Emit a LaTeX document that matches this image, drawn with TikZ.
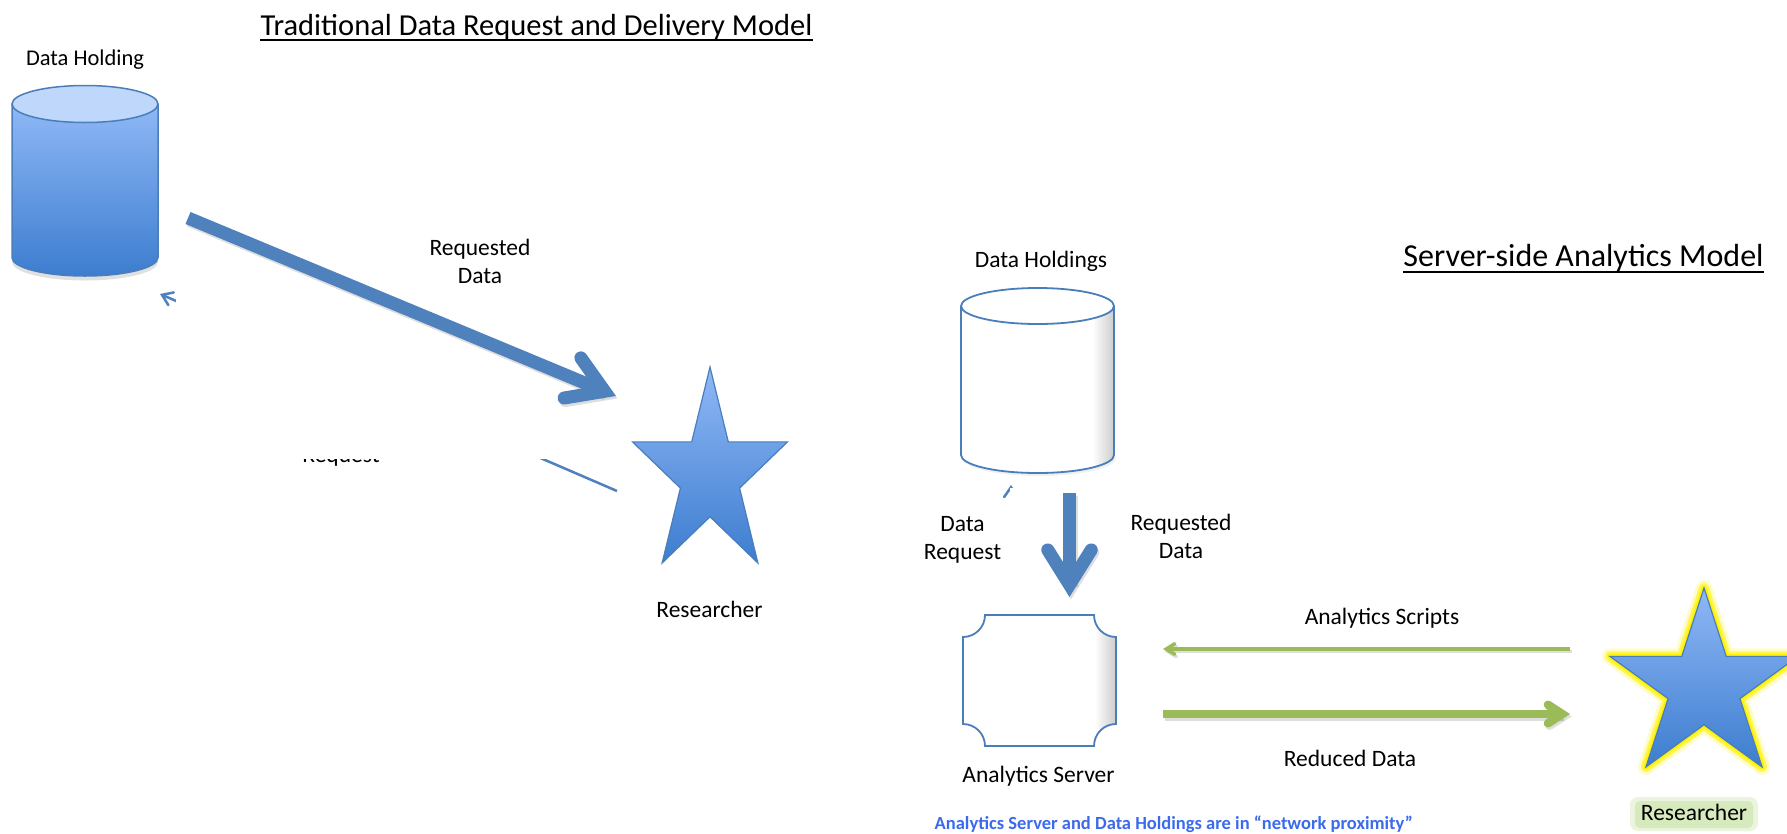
\documentclass[tikz,border=0pt]{standalone}
\usepackage{fontspec}
\setmainfont{Carlito}
\usetikzlibrary{calc}
\definecolor{obl}{RGB}{79,129,189}
\definecolor{olin}{RGB}{74,126,187}
\definecolor{gtop}{RGB}{143,184,246}
\definecolor{gbot}{RGB}{61,125,207}
\definecolor{ctop}{RGB}{190,215,250}
\definecolor{ogr}{RGB}{155,187,89}
\definecolor{txtblue}{RGB}{59,107,236}
\definecolor{glowg}{RGB}{215,234,190}
\pgfdeclarehorizontalshading{rshade}{100bp}{color(0bp)=(white); color(68bp)=(white); color(75bp)=(black!20); color(100bp)=(black!20)}
\newcommand\chevarrow[6]{%
  \coordinate (cv) at ($(#3)!#4!(#2)$);
  \draw[#1, line cap=butt] (#2) -- (cv);
  \draw[#1, line cap=round, line join=miter] ($(cv)!#5!#6:(#2)$) -- (cv) -- ($(cv)!#5!-#6:(#2)$);
}
\begin{document}
\begin{tikzpicture}[x=1pt,y=-1pt,
  lbl/.style={font=\fontsize{23.5}{28}\selectfont, align=center, inner sep=0pt, anchor=base},
  ttl/.style={inner sep=0pt, anchor=base},
  hitbox/.style={inner sep=0pt, draw=none},
  thickb/.style={draw=obl, line width=13pt},
  thinb/.style={draw=obl, line width=2.5pt},
  thickg/.style={draw=ogr, line width=8.5pt},
  thing/.style={draw=ogr, line width=3.5pt},
  shad/.style={draw=black, opacity=.13, transform canvas={shift={(1.5pt,-2.5pt)}}},
  starp/.style n args={4}{insert path={({#1},{#2}) -- ({#1+0.118*#3},{#2+0.382*#4}) -- ({#1+0.5*#3},{#2+0.382*#4}) -- ({#1+0.191*#3},{#2+0.618*#4}) -- ({#1+0.309*#3},{#2+#4}) -- ({#1},{#2+0.764*#4}) -- ({#1-0.309*#3},{#2+#4}) -- ({#1-0.191*#3},{#2+0.618*#4}) -- ({#1-0.5*#3},{#2+0.382*#4}) -- ({#1-0.118*#3},{#2+0.382*#4}) -- cycle}}
]
\useasboundingbox (0,0) rectangle (1787,833);
\fill[white] (0,0) rectangle (1787,833);

% titles
\node[ttl, font=\fontsize{30.5}{36}\selectfont] (t1) at (536.5,35) {Traditional Data Request and Delivery Model};
\draw[line width=2pt] ([yshift=-5pt]t1.base west) -- ([yshift=-5pt]t1.base east);
\node[ttl, font=\fontsize{32}{38}\selectfont] (t2) at (1583.5,266.5) {Server-side Analytics Model};
\draw[line width=2pt] ([yshift=-5pt]t2.base west) -- ([yshift=-5pt]t2.base east);

% ---------- left model ----------
\node[lbl, font=\fontsize{22.5}{27}\selectfont] (dhl) at (85,65) {Data Holding};
\node[hitbox, minimum width=146pt, minimum height=190pt] (dh) at (85,181) {};
\fill[black, opacity=.12] (85,262) ellipse [x radius=73pt, y radius=18.5pt];
\shade[top color=gtop, bottom color=gbot] (12,104) -- (12,257.5) arc[start angle=180,end angle=360,x radius=73pt,y radius=18.5pt] -- (158,104) -- cycle;
\draw[olin, line width=1.5pt] (12,104) -- (12,257.5) arc[start angle=180,end angle=360,x radius=73pt,y radius=18.5pt] -- (158,104);
\filldraw[fill=ctop, draw=olin, line width=1.5pt] (85,104) ellipse [x radius=73pt, y radius=18.5pt];

\node[hitbox, minimum width=155pt, minimum height=196pt] (res1) at (710,465) {};
\coordinate (r1t) at (617,491);
\coordinate (r1h) at (160,294);
\chevarrow{thinb}{r1t}{r1h}{2.2pt}{12pt}{35}
\node[lbl] (dreq1) at (341,462) {Data\\Request};
\fill[white] (176,289) rectangle (616,458.5);

\coordinate (a1t) at (188,218);
\coordinate (a1h) at (616,396);
\chevarrow{thickb,shad}{a1t}{a1h}{12.3pt}{41pt}{32}
\chevarrow{thickb}{a1t}{a1h}{12.3pt}{41pt}{32}
\node[lbl] (rq1) at (480,283) {Requested\\Data};

\shadedraw[top color=gtop, bottom color=gbot, draw=olin, line width=1.2pt, starp={710}{367}{155}{196}];
\node[lbl] (res1l) at (709.5,617) {Researcher};

% ---------- right model ----------
\node[lbl] (dh2l) at (1041,267.7) {Data Holdings};
\node[hitbox, minimum width=153pt, minimum height=185pt] (dh2) at (1037.5,380) {};
\fill[black, opacity=.06] (1039.5,458) ellipse [x radius=76.5pt, y radius=18pt];
\shade[shading=rshade] (961,306) -- (961,455) arc[start angle=180,end angle=360,x radius=76.5pt,y radius=18pt] -- (1114,306) -- cycle;
\draw[olin, line width=1.8pt] (961,306) -- (961,455) arc[start angle=180,end angle=360,x radius=76.5pt,y radius=18pt] -- (1114,306);
\filldraw[fill=white, draw=olin, line width=1.8pt] (1037.5,306) ellipse [x radius=76.5pt, y radius=18pt];

\node[hitbox, minimum width=153pt, minimum height=131pt] (srv) at (1039.5,680.5) {};
\coordinate (r2t) at (1011,612);
\coordinate (r2h) at (1011,485);
\chevarrow{thinb}{r2t}{r2h}{2.2pt}{12pt}{35}
\fill[white] (1010.3,488) rectangle (1060,612);
\node[lbl] (dreq2) at (962.5,559) {Data\\Request};

\coordinate (a2t) at (1069.5,493);
\coordinate (a2h) at (1069.5,597);
\chevarrow{thickb,shad}{a2t}{a2h}{12.3pt}{41pt}{32}
\chevarrow{thickb}{a2t}{a2h}{12.3pt}{41pt}{32}
\node[lbl] (rq2) at (1181,558) {Requested\\Data};

\shadedraw[shading=rshade, draw=olin, line width=1.8pt] (985,615) -- (1094,615) arc[start angle=180,end angle=270,radius=22pt] -- (1116,724) arc[start angle=90,end angle=180,radius=22pt] -- (985,746) arc[start angle=0,end angle=90,radius=22pt] -- (963,637) arc[start angle=270,end angle=360,radius=22pt] -- cycle;
\node[lbl] (srvl) at (1038.5,782) {Analytics Server};

\coordinate (g1t) at (1570,649);
\coordinate (g1h) at (1163,649);
\chevarrow{thing,shad}{g1t}{g1h}{3.3pt}{10pt}{32}
\chevarrow{thing}{g1t}{g1h}{3.3pt}{10pt}{32}
\node[lbl] (scl) at (1382,624) {Analytics Scripts};
\coordinate (g2t) at (1163,714);
\coordinate (g2h) at (1570,714);
\chevarrow{thickg,shad}{g2t}{g2h}{7.8pt}{17pt}{33}
\chevarrow{thickg}{g2t}{g2h}{7.8pt}{17pt}{33}
\node[lbl] (rdl) at (1350,766.7) {Reduced Data};

\node[hitbox, minimum width=188pt, minimum height=179pt] (res2) at (1704,677.5) {};
\draw[yellow!70!white, opacity=.3, line width=16pt, line join=round, starp={1704}{588}{188}{179}];
\draw[yellow, opacity=.6, line width=10pt, line join=round, starp={1704}{588}{188}{179}];
\draw[yellow, line width=5pt, line join=round, starp={1704}{588}{188}{179}];
\shadedraw[top color=gtop, bottom color=gbot, draw=olin, line width=1.2pt, starp={1704}{588}{188}{179}];

\fill[glowg, opacity=.5, rounded corners=8pt] (1630,797) rectangle (1758,831);
\fill[glowg, rounded corners=5pt] (1635,801) rectangle (1753,828);
\node[lbl] (res2l) at (1694,820) {Researcher};

\node[anchor=base, inner sep=0pt, font=\bfseries\fontsize{18.5}{22}\selectfont, text=txtblue] (note) at (1173.8,829.3) {Analytics Server and Data Holdings are in “network proximity”};
\end{tikzpicture}
\end{document}
